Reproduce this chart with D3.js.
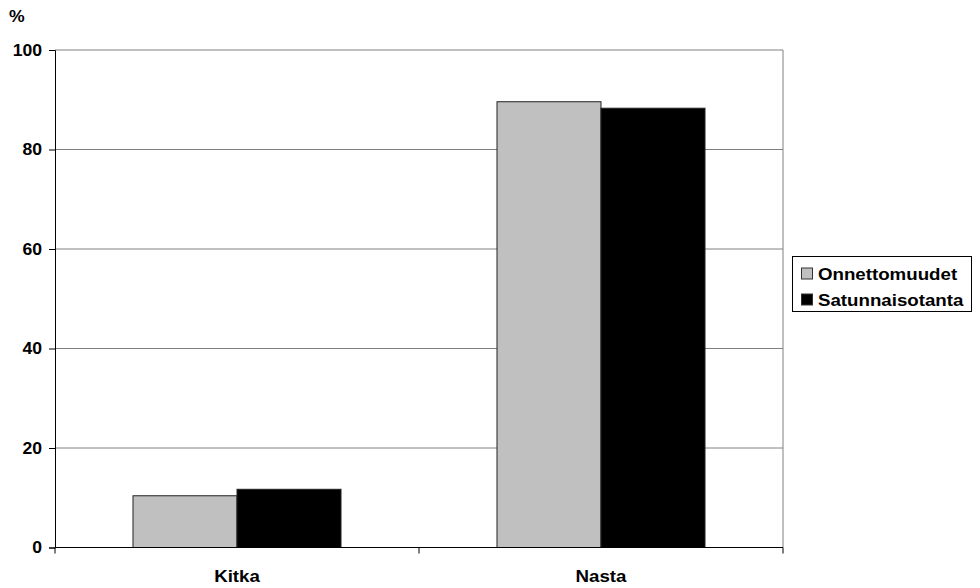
<!DOCTYPE html>
<html>
<head>
<meta charset="utf-8">
<script src="https://cdn.jsdelivr.net/npm/d3@7"></script>
<style>
  body { margin: 0; background: #fff; }
  text { font-family: "Liberation Sans", Arial, sans-serif; font-weight: bold; fill: #000; }
</style>
</head>
<body>
<svg id="chart" width="980" height="588"></svg>
<script>
// Share of tyre types (%) in accidents vs. random sample
const categories = ["Kitka", "Nasta"];
const seriesNames = ["Onnettomuudet", "Satunnaisotanta"];
const onnettomuudet = [10.4, 89.6];
const satunnaisotanta = [11.7, 88.3];
const yTicks = [0, 20, 40, 60, 80, 100];
const colors = ["#c0c0c0", "#000000"];

const svg = d3.select("#chart");
const plot = { left: 55, right: 783, top: 50, bottom: 547.5 };
const WIDEN = 1.1; // slightly wide lettering

const x = d3.scaleBand().domain(categories).range([plot.left, plot.right]).paddingInner(0).paddingOuter(0);
const inner = d3.scaleBand().domain(seriesNames).range([0, x.bandwidth()]).paddingInner(0).paddingOuter(0.75);
const y = d3.scaleLinear().domain([0, 100]).range([plot.bottom, plot.top]);

// place a text at (px, py) with widened glyphs
function label(g, px, py, str, size, anchor) {
  return g.append("text")
    .attr("transform", `translate(${px},${py}) scale(${WIDEN},1)`)
    .attr("font-size", size)
    .attr("text-anchor", anchor || "start")
    .text(str);
}

// horizontal gridlines
svg.append("g").selectAll("line").data(yTicks.filter(d => d > 0)).join("line")
  .attr("x1", plot.left).attr("x2", plot.right)
  .attr("y1", d => y(d)).attr("y2", d => y(d))
  .attr("stroke", "#808080").attr("stroke-width", 1);

// right border of the plot area
svg.append("line").attr("x1", plot.right).attr("x2", plot.right)
  .attr("y1", plot.top).attr("y2", plot.bottom).attr("stroke", "#808080");

// bars
const rows = categories.map((c, i) => ({ c, vals: [onnettomuudet[i], satunnaisotanta[i]] }));
svg.append("g").selectAll("g").data(rows).join("g")
  .attr("transform", d => `translate(${x(d.c)},0)`)
  .selectAll("rect").data(d => d.vals.map((v, j) => ({ s: seriesNames[j], v, j }))).join("rect")
  .attr("x", d => inner(d.s))
  .attr("width", inner.bandwidth())
  .attr("y", d => y(d.v))
  .attr("height", d => y(0) - y(d.v))
  .attr("fill", d => colors[d.j])
  .attr("stroke", "#222").attr("stroke-width", 1);

// y axis
const yAxis = svg.append("g").attr("transform", `translate(${plot.left},0)`)
  .call(d3.axisLeft(y).tickValues(yTicks).tickSize(6).tickFormat(() => ""));
yAxis.select(".domain").attr("stroke", "#000");
yAxis.selectAll(".tick line").attr("stroke", "#000");
const yLabels = svg.append("g");
yTicks.forEach(t => label(yLabels, 42, y(t) + 5.8, d3.format("d")(t), 16, "end"));

// x axis with ticks at category boundaries
const xAxisG = svg.append("g").attr("transform", `translate(0,${plot.bottom})`);
xAxisG.append("line").attr("x1", plot.left).attr("x2", plot.right).attr("stroke", "#000");
const bounds = [plot.left, ...categories.slice(1).map(c => x(c)), plot.right];
xAxisG.selectAll("line.tick").data(bounds).join("line").attr("class", "tick")
  .attr("x1", d => d).attr("x2", d => d).attr("y1", 0).attr("y2", 6).attr("stroke", "#000");
categories.forEach(c => label(xAxisG, x(c) + x.bandwidth() / 2, 34.5, c, 17, "middle"));

// unit label
label(svg, 9, 22, "%", 16);

// legend
const lg = svg.append("g").attr("transform", "translate(792.5,256.5)");
lg.append("rect").attr("width", 179).attr("height", 55).attr("fill", "#fff").attr("stroke", "#000");
seriesNames.forEach((s, i) => {
  const row = lg.append("g").attr("transform", `translate(0,${i * 26})`);
  row.append("rect").attr("x", 9).attr("y", 11.5).attr("width", 11).attr("height", 11)
    .attr("fill", colors[i]).attr("stroke", "#333");
  label(row, 25.5, 23.5, s, 17);
});
</script>
</body>
</html>
